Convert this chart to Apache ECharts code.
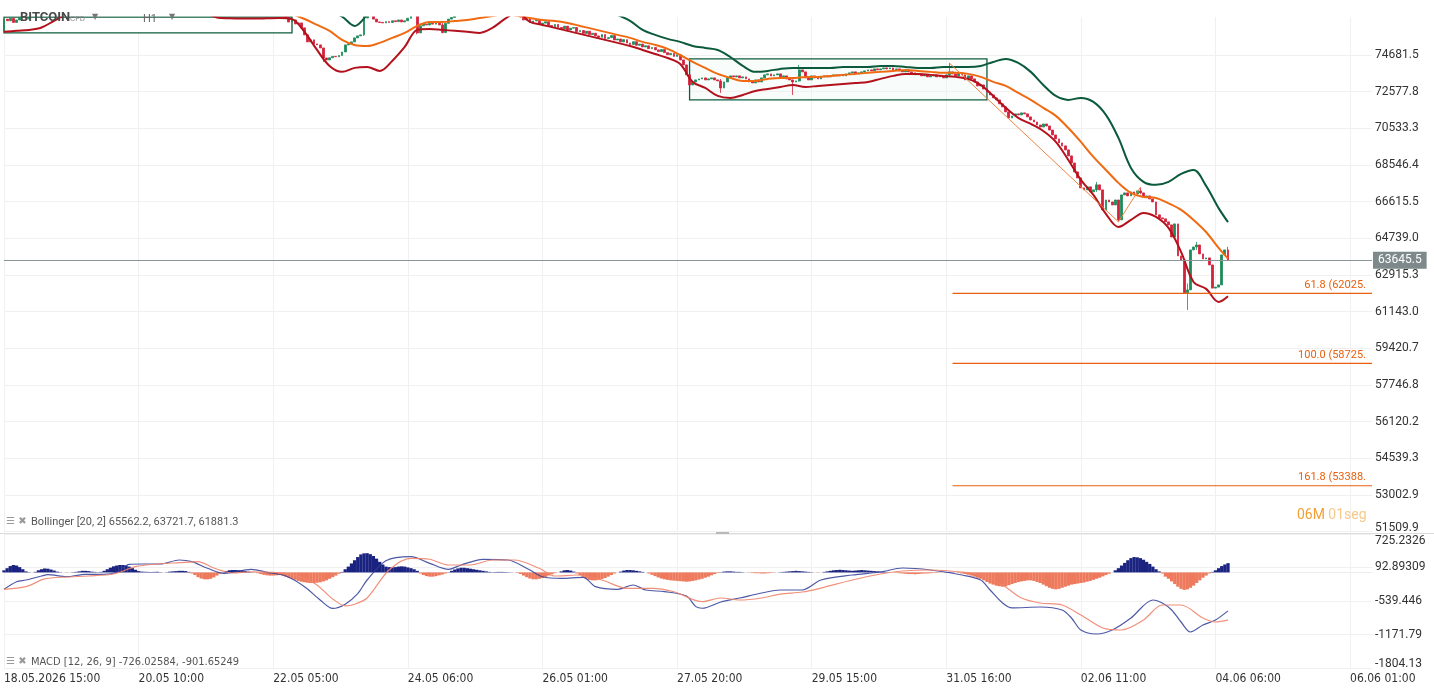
<!DOCTYPE html>
<html>
<head>
<meta charset="utf-8">
<script src="https://cdn.jsdelivr.net/npm/echarts@6/dist/echarts.min.js"></script>
<style>
  html, body { margin: 0; padding: 0; background: #fff; }
  #chart { width: 1434px; height: 694px; }
</style>
</head>
<body>
<div id="chart"></div>
<script>
// eje X: una etiqueta cada 43 velas (H1)
var tickLabels = ['18.05.2026 15:00', '20.05 10:00', '22.05 05:00', '24.05 06:00', '26.05 01:00',
  '27.05 20:00', '29.05 15:00', '31.05 16:00', '02.06 11:00', '04.06 06:00', '06.06 01:00'];
var priceTicks = [74681.5, 72577.8, 70533.3, 68546.4, 66615.5, 64739.0, 62915.3, 61143.0,
  59420.7, 57746.8, 56120.2, 54539.3, 53002.9, 51509.9];
var macdTicks = [725.2326, 92.89309, -539.446, -1171.79, -1804.13];
var macdTickLabels = ['725.2326', '92.89309', '-539.446', '-1171.79', '-1804.13'];

// velas: apertura = cierre anterior
var firstOpen = 76040;
var closes = [
  76800, 76700, 76850, 76600, 76750, 76900, 77000, 76800, 76950, 77100,
  77000, 77200, 77300, 77500, 77700, 77900, 78100, 78000, 78300, 78500,
  78400, 78600, 78800, 78700, 78900, 79000, 78800, 78600, 78700, 78900,
  79100, 79000, 78800, 78600, 78700, 78500, 78300, 78400, 78200, 78300,
  78500, 78400, 78200, 78000, 78100, 77900, 77800, 78000, 78200, 78100,
  78300, 78400, 78200, 78000, 78100, 78300, 78200, 78000, 77900, 77800,
  78000, 77900, 77700, 77600, 77700, 77500, 77400, 77300, 77500, 77600,
  77400, 77300, 77200, 77400, 77500, 77300, 77200, 77100, 77300, 77400,
  77200, 77100, 77300, 77200, 77100, 77000, 77200, 77300, 77100, 77000,
  76900, 76630, 76749, 76512, 76571, 76276, 75862, 75449, 75567, 75330,
  75271, 75094, 74509, 74394, 74520, 74600, 74580, 74650, 74858, 75271,
  75330, 75449, 75685, 75803, 75862, 76867, 77100, 77000, 76800, 76630,
  76600, 76570, 76650, 76600, 76700, 76650, 76750, 76630, 76700, 76850,
  77000, 77000, 75980, 76400, 76500, 76450, 76550, 76500, 76600, 76450,
  76000, 76550, 76800, 76900, 77000, 77200, 77100, 77300, 77400, 77300,
  77500, 77600, 77500, 77700, 77800, 77700, 77900, 78000, 77800, 77900,
  77700, 77600, 77400, 77300, 77100, 76926, 76750, 76820, 76600, 76690,
  76720, 76480, 76560, 76640, 76420, 76350, 76480, 76300, 76220, 76380,
  76150, 76260, 76300, 76050, 76120, 75950, 76080, 75880, 75960, 75800,
  75720, 75880, 75650, 75700, 75820, 75560, 75620, 75450, 75580, 75380,
  75300, 75460, 75250, 75320, 75150, 75220, 75050, 75120, 74980, 74880,
  75000, 74820, 74700, 74780, 74600, 74700, 74394, 74107, 73534, 72959,
  73131, 73246, 73304, 73361, 73246, 73304, 73361, 73246, 73189, 72787,
  73131, 73361, 73476, 73419, 73476, 73361, 73419, 73304, 73131, 73074,
  73246, 73131, 73361, 73534, 73591, 73476, 73534, 73591, 73419, 73476,
  73304, 73246, 73131, 73189, 73820, 73706, 73361, 73246, 73476, 73361,
  73304, 73419, 73476, 73419, 73476, 73534, 73476, 73534, 73476, 73591,
  73649, 73706, 73591, 73649, 73706, 73763, 73820, 73763, 73878, 73820,
  73878, 73935, 73878, 73935, 73820, 73878, 73763, 73706, 73820, 73706,
  73649, 73534, 73591, 73476, 73534, 73419, 73476, 73534, 73419, 73476,
  73361, 73534, 73706, 73591, 73476, 73649, 73534, 73246, 73476, 73304,
  73131, 72902, 72959, 72729, 72560, 72393, 72226, 72114, 71891, 71723,
  71444, 71109, 71221, 71332, 71276, 71388, 71332, 71165, 70997, 70886,
  70718, 70606, 70774, 70662, 70441, 70171, 69954, 69737, 69575, 69358,
  69034, 68655, 68178, 67862, 67336, 67231, 67389, 67126, 67231, 67494,
  67231, 66190, 66705, 66600, 66446, 66705, 65677, 66968, 67073, 66915,
  67126, 67021, 67178, 67073, 66863, 66915, 66758, 66600, 65934, 65780,
  65729, 65575, 65421, 64806, 65472, 63859, 63660, 62046, 62191, 64157,
  64306, 64406, 63959, 63710, 63760, 63411, 62277, 62325, 62432, 63909,
  64157, 63645.5
];
// mechas visibles: [vela, maximo, minimo]
var wicks = [
  [102, 74600, 74280], [115, 77200, 75800], [132, 77000, 75900], [140, 76600, 75950],
  [229, 73300, 72505], [252, 73250, 72393], [254, 74107, 73150], [302, 74214, 73450],
  [349, 67652, 67126], [356, 66705, 65575], [363, 67364, 67000], [378, 62500, 61225],
  [381, 64555, 64157], [391, 64310, 63600]
];

// Bollinger [20, 2], leido cada 4 velas (la ultima es la 391)
var upperBand = [
  79200, 79400, 79600, 79800, 80000, 80100, 80000, 79900, 79800, 79700,
  79600, 79400, 79200, 79000, 78900, 78900, 78800, 78700, 78600, 78500,
  78400, 78300, 78200, 78100, 77900, 77600, 77300, 76950, 76394, 77050,
  77800, 78300, 78500, 78600, 78700, 78800, 78900, 79000, 79100, 79100,
  79000, 78900, 78800, 78600, 78400, 78200, 78000, 77700, 77400, 77050,
  76700, 76158, 75862, 75626, 75449, 75212, 75094, 74976, 74567, 74050,
  73706, 73763, 73878, 73935, 73935, 73935, 73935, 73992, 73992, 73992,
  74050, 74050, 73992, 73935, 73935, 73992, 73992, 73992, 74050, 74280,
  74452, 74222, 73706, 72959, 72337, 72114, 72226, 72002, 71276, 70009,
  68389, 67652, 67494, 67652, 68073, 68283, 67442, 66282, 65562.2
];
var middleBand = [
  77800, 77900, 78100, 78300, 78400, 78500, 78500, 78500, 78400, 78400,
  78300, 78200, 78000, 77900, 77900, 77900, 77800, 77700, 77700, 77600,
  77500, 77400, 77300, 77100, 76808, 76453, 76099, 75567, 75271, 75212,
  75390, 75685, 75980, 76394, 76630, 76630, 76690, 76749, 76867, 76985,
  77100, 77000, 76867, 76749, 76690, 76571, 76394, 76217, 76040, 75862,
  75685, 75449, 75271, 75035, 74681, 74280, 73935, 73591, 73361, 73189,
  73189, 73304, 73361, 73361, 73419, 73419, 73476, 73534, 73591, 73649,
  73706, 73763, 73820, 73763, 73706, 73649, 73649, 73591, 73419, 73131,
  72902, 72505, 72114, 71668, 71221, 70550, 69792, 68980, 68283, 67599,
  67073, 66863, 66810, 66531, 66190, 65677, 65062, 64257, 63721.7
];
var lowerBand = [
  76040, 76100, 76150, 76300, 76700, 77100, 77300, 77400, 77400, 77450,
  77500, 77500, 77450, 77400, 77350, 77300, 77200, 76900, 76850, 76830,
  76830, 76850, 76870, 76800, 76040, 74976, 74050, 73706, 73935, 73992,
  73763, 74337, 75153, 76158, 76217, 76158, 76099, 76040, 75980, 76276,
  76808, 77200, 76630, 76453, 76276, 76099, 75921, 75744, 75567, 75390,
  75212, 74976, 74740, 74509, 74165, 73131, 72787, 72337, 72226, 72393,
  72617, 72730, 72845, 72959, 72845, 72902, 72959, 73016, 73074, 73131,
  73304, 73476, 73591, 73591, 73534, 73476, 73419, 73304, 72959, 72337,
  71668, 71109, 70774, 70387, 69792, 68817, 67757, 66968, 65985, 65319,
  65677, 66036, 65831, 65267, 64058, 62577, 62239, 61611, 61881.3
];

// dibujos: zigzag de Fibonacci y niveles
var fibZigzag = [[302, 74214], [356, 65575], [363, 67364]];
var fibLevels = [['61.8 (62025.', 62025], ['100.0 (58725.', 58725], ['161.8 (53388.', 53388]];
var fibStart = 303;
var lastPrice = 63645.5;

// MACD [12, 26, 9]
var macdLine = [[0, -319], [4, -175], [7, -143], [12, -68], [14, -43], [20, -81], [26, -36], [32, -36],
  [36, 2], [40, 153], [44, 159], [50, 159], [56, 234], [60, 203], [65, 78], [70, -17], [79, 59],
  [84, 2], [90, -68], [96, -269], [101, -520], [105, -680], [109, -600], [113, -400], [116, -143],
  [122, 221], [130, 297], [136, 172], [142, 59], [146, 140], [153, 247], [161, 234], [168, 46],
  [172, -81], [178, -111], [185, -92], [189, -269], [196, -319], [201, -237], [205, -332],
  [211, -363], [218, -445], [221, -646], [223, -676], [229, -558], [235, -483], [242, -389],
  [248, -332], [255, -332], [261, -143], [271, -49], [280, 8], [287, 83], [296, 46], [306, -49],
  [312, -143], [315, -332], [319, -577], [322, -671], [331, -653], [338, -709], [341, -860],
  [344, -1087], [349, -1162], [354, -1087], [360, -860], [367, -521], [370, -577], [373, -709],
  [376, -936], [379, -1125], [383, -993], [387, -898], [391, -726.03]];
var signalLine = [[0, -319], [7, -269], [13, -123], [20, -86], [27, -68], [35, -30], [42, 108],
  [49, 159], [56, 184], [62, 203], [67, 84], [73, -11], [79, 13], [90, -17], [99, -200],
  [105, -500], [109, -630], [112, -600], [116, -483], [123, 46], [130, 267], [136, 248],
  [142, 140], [149, 140], [156, 234], [163, 234], [171, 78], [176, -68], [183, -49], [191, -143],
  [199, -300], [207, -300], [214, -364], [223, -553], [229, -483], [235, -521], [242, -483],
  [248, -408], [255, -370], [261, -295], [271, -143], [280, -30], [287, 27], [296, 46], [306, 8],
  [312, -49], [319, -237], [325, -483], [331, -577], [338, -615], [344, -804], [351, -1049],
  [357, -1087], [364, -898], [370, -615], [376, -615], [383, -860], [387, -936], [391, -901.65]];
var macdHist = [
  40, 80, 120, 140, 130, 100, 60, 20, 5, 0, 10,
  40, 60, 75, 70, 55, 35, 15, 5, 0, -5, 0, 5, 10,
  20, 30, 30, 25, 15, 10, 5, 10, 30, 60,
  90, 115, 130, 140, 140, 130, 110, 80, 50, 25,
  15, 12, 10, 8, 10, 12, 5, 0, 5, 15, 20, 25, 30, 30, 25, 10,
  -20, -50, -90, -115, -130, -130, -120, -95, -60, -25, 5, 25,
  40, 45, 45, 40, 35, 25, 15, 5, -5, -15, -30,
  -45, -55, -60, -60, -55, -50, -60,
  -80, -100, -120, -140, -160, -175, -185, -195, -200, -200, -195, -185, -170, -150, -120, -90, -60, -25,
  10, 60, 110, 170, 230, 290, 340, 360, 363, 345, 310, 260, 200, 150, 110,
  100, 95, 100, 110, 115, 110, 95, 80, 60, 30,
  -20, -50, -70, -80, -80, -70, -55, -40, -20, 5,
  30, 55, 75, 88, 88, 80, 70, 60, 50, 40, 30, 20, 10,
  5, 8, 10, 10, 8, 5, 3, 0, -10, -30, -60,
  -90, -115, -130, -130, -120, -105, -85, -60, -35, -15, 0,
  20, 40, 45, 35, 15,
  -20, -50, -85, -115, -140, -150, -150, -140, -125, -105, -80, -50, -20, 0, 15,
  35, 45, 45, 40, 30, 20, 10, 0,
  -20, -45, -70, -95, -115, -130, -140, -150, -155, -160, -165, -170, -175, -170, -160, -150, -135, -120,
  -100, -80, -55, -30, -10, 5, 15,
  20, 20, 15, 10, 10, 5, 0, -5, -10, -15,
  -15, -20, -20, -15, -10, -5, 0, 5, 10, 15,
  20, 25, 30, 25, 20, 15, 10, 5, 0, -5,
  0, 10, 20, 30, 40, 45, 50, 45, 40, 35,
  30, 35, 40, 45, 40, 35, 30, 25, 20, 15,
  10, 5, 0, -5, -10, -15, -20, -25, -30, -30,
  -35, -30, -25, -20, -20, -15, -10, -10, -5, 0,
  5, 10, 5, 0, -10, -20, -30, -45, -60, -80,
  -100, -120, -150, -180, -210, -230, -250, -260, -270, -260,
  -240, -220, -200, -180, -170, -160, -150, -150, -160, -180,
  -200, -230, -260, -290, -310, -320, -310, -290, -270, -250,
  -230, -220, -210, -200, -190, -175, -160, -140, -120, -100, -75, -50, -25, 0,
  40, 80, 130, 180, 230, 270, 290, 285, 270, 240, 200, 160, 110, 60, 20, -20,
  -80, -120, -170, -220, -270, -310, -330, -320, -290, -250,
  -200, -150, -100, -60, -20, 10, 40, 80, 120, 150, 175
];

var CAT_COUNT = 438;
var LABEL_STEP = 43;
var FIB_COLOR = '#e8600e';
var FONT = 'Roboto, "Noto Sans", sans-serif';
var FONT_NARROW = '"DejaVu Sans Condensed", "Liberation Sans Narrow", Roboto, sans-serif';

var cats = [];
for (var i = 0; i < CAT_COUNT; i++) cats.push(String(i));

var candles = [];
var prev = firstOpen;
closes.forEach(function(c) {
  candles.push([prev, c, Math.min(prev, c), Math.max(prev, c)]);
  prev = c;
});
wicks.forEach(function(w) {
  var k = candles[w[0]];
  k[3] = Math.max(k[3], w[1]);
  k[2] = Math.min(k[2], w[2]);
});

function bandPoints(vals) {
  return vals.map(function(v, k) {
    var idx = k === vals.length - 1 ? closes.length - 1 : k * 4;
    return [idx, v];
  });
}

// cada nivel de Fibonacci es una linea de dos puntos con su texto al final
var fibSeries = fibLevels.map(function(f) {
  return {
    name: f[0], type: 'line', xAxisIndex: 0, yAxisIndex: 0, z: 5,
    symbol: 'circle', symbolSize: 0, showSymbol: true, silent: true,
    lineStyle: { color: FIB_COLOR, width: 1.2 },
    itemStyle: { color: FIB_COLOR },
    data: [
      [fibStart, f[1]],
      {
        value: [CAT_COUNT - 1, f[1]],
        label: {
          show: true, formatter: f[0], position: 'left', distance: 6, offset: [0, -8],
          color: FIB_COLOR, fontSize: 11, fontFamily: FONT
        }
      }
    ]
  };
});

var chart = echarts.init(document.getElementById('chart'));

chart.setOption({
  animation: false,
  backgroundColor: '#fff',
  grid: [
    { left: 4, right: 62, top: 17, height: 514.7 },
    { left: 4, right: 62, top: 534, height: 134 }
  ],
  xAxis: [
    {
      type: 'category', gridIndex: 0, data: cats, boundaryGap: false,
      axisLine: { show: false }, axisTick: { show: false }, axisLabel: { show: false },
      splitLine: { show: true, interval: LABEL_STEP - 1, lineStyle: { color: '#f0f0f0' } }
    },
    {
      type: 'category', gridIndex: 1, data: cats, boundaryGap: false,
      axisLine: { show: true, lineStyle: { color: '#ececec' } }, axisTick: { show: false },
      axisLabel: {
        interval: LABEL_STEP - 1, align: 'left', margin: 5, color: '#333',
        fontSize: 12, fontFamily: FONT_NARROW,
        formatter: function(v, idx) { return tickLabels[idx / LABEL_STEP] || ''; }
      },
      splitLine: { show: true, interval: LABEL_STEP - 1, lineStyle: { color: '#f0f0f0' } }
    }
  ],
  yAxis: [
    {
      type: 'log', gridIndex: 0, position: 'right', min: 51509.9, max: 76926,
      axisLine: { show: false },
      axisTick: { show: false, customValues: priceTicks },
      axisLabel: {
        customValues: priceTicks, margin: 3, color: '#333', fontSize: 12, fontFamily: FONT,
        formatter: function(v) {
          var s = Number(v).toFixed(1);
          return v < 52000 ? '{low|' + s + '}' : s;
        },
        rich: { low: { padding: [0, 0, 7, 0], fontSize: 12, fontFamily: FONT, color: '#333' } }
      },
      splitLine: { show: true, lineStyle: { color: '#f0f0f0' } },
      minorTick: { show: false }, minorSplitLine: { show: false }
    },
    {
      type: 'value', gridIndex: 1, position: 'right', min: -1804.13, max: 725.2326,
      axisLine: { show: false },
      axisTick: { show: false, customValues: macdTicks },
      axisLabel: {
        customValues: macdTicks, margin: 3, color: '#333', fontSize: 12, fontFamily: FONT,
        formatter: function(v) {
          var best = 0;
          macdTicks.forEach(function(t, k) { if (Math.abs(t - v) < Math.abs(macdTicks[best] - v)) best = k; });
          if (best === 0) return '{top|' + macdTickLabels[best] + '}';
          if (best === macdTicks.length - 1) return '{bot|' + macdTickLabels[best] + '}';
          return macdTickLabels[best];
        },
        rich: {
          top: { padding: [14, 0, 0, 0], fontSize: 12, fontFamily: FONT, color: '#333' },
          bot: { padding: [0, 0, 8, 0], fontSize: 12, fontFamily: FONT, color: '#333' }
        }
      },
      splitLine: { show: true, lineStyle: { color: '#f0f0f0' } }
    }
  ],
  series: [
    {
      name: 'rango', type: 'line', xAxisIndex: 0, yAxisIndex: 0, data: [], z: 1,
      markArea: {
        silent: true,
        itemStyle: { color: 'rgba(236,247,241,0.35)', borderColor: '#0f5c3e', borderWidth: 1.3 },
        data: [[{ coord: [219, 74452] }, { coord: [314, 72114] }]]
      }
    },
    {
      name: 'BITCOIN', type: 'candlestick', xAxisIndex: 0, yAxisIndex: 0, data: candles,
      barWidth: 2.3, z: 3,
      itemStyle: {
        color: '#1d8a59', color0: '#d3213b', borderColor: '#1d8a59', borderColor0: '#d3213b', borderWidth: 0.8
      },
      markLine: {
        silent: true, symbol: 'none', animation: false,
        data: [{
          yAxis: lastPrice,
          lineStyle: { color: '#8a9697', width: 1, type: 'solid' },
          label: {
            position: 'end', formatter: '63645.5', color: '#fff', backgroundColor: '#7d898a',
            padding: [3, 5, 2, 5], fontSize: 12, fontFamily: FONT, distance: 1
          }
        }]
      }
    },
    {
      name: 'superior', type: 'line', xAxisIndex: 0, yAxisIndex: 0, data: bandPoints(upperBand),
      smooth: 0.35, showSymbol: false, z: 4, lineStyle: { color: '#0b5a3b', width: 2 }
    },
    {
      name: 'media', type: 'line', xAxisIndex: 0, yAxisIndex: 0, data: bandPoints(middleBand),
      smooth: 0.35, showSymbol: false, z: 4, lineStyle: { color: '#f06a12', width: 2 }
    },
    {
      name: 'inferior', type: 'line', xAxisIndex: 0, yAxisIndex: 0, data: bandPoints(lowerBand),
      smooth: 0.35, showSymbol: false, z: 4, lineStyle: { color: '#b3111c', width: 2 }
    },
    {
      name: 'fib', type: 'line', xAxisIndex: 0, yAxisIndex: 0, data: fibZigzag,
      showSymbol: false, z: 5, lineStyle: { color: '#f0843f', width: 1 }
    },
    {
      name: 'caja', type: 'line', xAxisIndex: 0, yAxisIndex: 0, data: [], z: 8,
      markArea: {
        silent: true,
        itemStyle: { color: 'rgba(255,255,255,0.84)', borderColor: '#0f5c3e', borderWidth: 1.3 },
        data: [[{ coord: [0, 78500] }, { coord: [92, 75980] }]]
      }
    },
    {
      name: 'hist', type: 'bar', xAxisIndex: 1, yAxisIndex: 1, data: macdHist, barWidth: 3.3,
      itemStyle: { color: function(p) { return p.value >= 0 ? '#1b2380' : '#ee7a5d'; } }
    },
    {
      name: 'MACD', type: 'line', xAxisIndex: 1, yAxisIndex: 1, data: macdLine, smooth: 0.3,
      showSymbol: false, z: 4, lineStyle: { color: '#2f3c95', width: 1.2, opacity: 0.85 }
    },
    {
      name: 'signal', type: 'line', xAxisIndex: 1, yAxisIndex: 1, data: signalLine, smooth: 0.3,
      showSymbol: false, z: 4, lineStyle: { color: '#f0846c', width: 1.2, opacity: 0.9 }
    }
  ].concat(fibSeries),
  graphic: [
    { type: 'rect', shape: { x: 0, y: 0, width: 1434, height: 16.5 }, style: { fill: '#fff' }, z: 100 },
    { type: 'rect', shape: { x: 0, y: 533, width: 1434, height: 1 }, style: { fill: '#dcdcdc' }, z: 100 },
    { type: 'rect', shape: { x: 716, y: 532, width: 13, height: 2 }, style: { fill: '#b8b8b8' }, z: 101 },
    { type: 'text', x: 20, y: 18, z: 102, style: { text: 'BITCOIN', fill: '#4a4a4a', font: 'bold 13px ' + FONT, verticalAlign: 'middle' } },
    { type: 'text', x: 70, y: 19, z: 102, style: { text: 'CFD', fill: '#8f8f8f', font: '8px ' + FONT, verticalAlign: 'middle' } },
    { type: 'text', x: 92, y: 17, z: 102, style: { text: '▼', fill: '#777', font: '8px "DejaVu Sans"', verticalAlign: 'middle' } },
    { type: 'text', x: 143, y: 19, z: 102, style: { text: 'H1', fill: '#666', font: '11px ' + FONT, verticalAlign: 'middle' } },
    { type: 'text', x: 169, y: 17, z: 102, style: { text: '▼', fill: '#777', font: '8px "DejaVu Sans"', verticalAlign: 'middle' } },
    { type: 'text', x: 6, y: 521, z: 102, style: { text: '☰ ✖', fill: '#9a9a9a', font: '10px "DejaVu Sans"', verticalAlign: 'middle' } },
    { type: 'text', x: 31, y: 522, z: 102, style: { text: 'Bollinger [20, 2] 65562.2, 63721.7, 61881.3', fill: '#555', font: '11px ' + FONT, verticalAlign: 'middle' } },
    { type: 'text', x: 6, y: 661, z: 102, style: { text: '☰ ✖', fill: '#9a9a9a', font: '10px "DejaVu Sans"', verticalAlign: 'middle' } },
    { type: 'text', x: 31, y: 662, z: 102, style: { text: 'MACD [12, 26, 9] -726.02584, -901.65249', fill: '#555', font: '11px ' + FONT_NARROW, verticalAlign: 'middle' } },
    {
      type: 'text', x: 1297, y: 515, z: 102,
      style: {
        text: '{a|06M} {b|01seg}', verticalAlign: 'middle',
        rich: {
          a: { fill: '#f2a035', font: '14px ' + FONT },
          b: { fill: '#f6c98a', font: '14px ' + FONT }
        }
      }
    }
  ]
});
</script>
</body>
</html>
